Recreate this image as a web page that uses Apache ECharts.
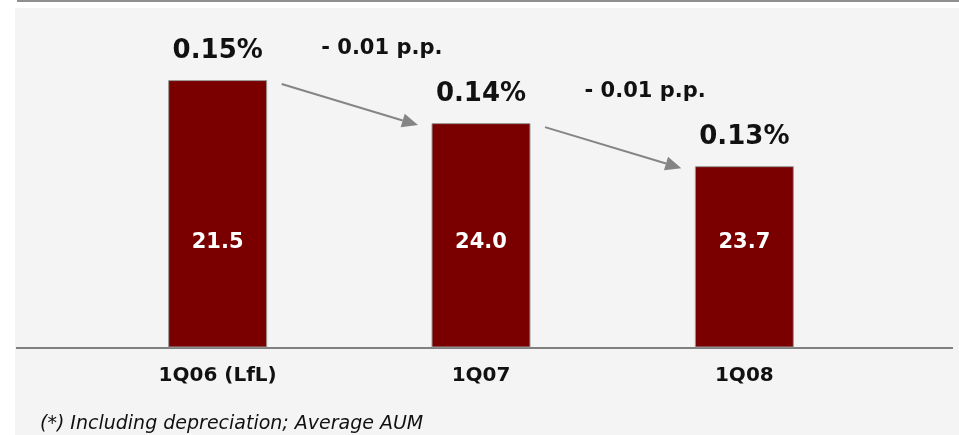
<!DOCTYPE html>
<html>
<head>
<meta charset="utf-8">
<script src="https://cdn.jsdelivr.net/npm/echarts@6/dist/echarts.min.js"></script>
<style>
  html, body { margin: 0; padding: 0; background: #ffffff; }
  #chart { width: 959px; height: 435px; }
</style>
</head>
<body>
<div id="chart"></div>
<script>
// Cost / average AUM by quarter
const categories = ['1Q06 (LfL)', '1Q07', '1Q08'];
const costRatio = [0.15, 0.14, 0.13];      // % of average AUM (bar height, label above)
const costAmount = [21.5, 24.0, 23.7];     // amount printed inside each bar
const footnote = '(*) Including depreciation; Average AUM';

const FONT = "'DejaVu Sans', Verdana, sans-serif";
const INK = '#111111';
const ARROW = '#858585';

// one entry per step between consecutive quarters: [from index, from value, to value]
const steps = costRatio.slice(1).map((v, i) => [i, costRatio[i], v]);

function changeText(a, b) {
  const d = Math.round((b - a) * 100) / 100;
  return (d < 0 ? '- ' : '+ ') + Math.abs(d).toFixed(2) + ' p.p.';
}

const chart = echarts.init(document.getElementById('chart'), null, { renderer: 'canvas' });

const option = {
  animation: false,
  backgroundColor: '#ffffff',
  grid: { left: 86, right: 83, top: 37, bottom: 88 },
  xAxis: {
    type: 'category',
    data: categories,
    axisLine: { show: false },
    axisTick: { show: false },
    axisLabel: {
      margin: 19,
      color: INK,
      fontWeight: 'bold',
      fontSize: 20,
      fontFamily: FONT
    }
  },
  yAxis: { type: 'value', min: 0.088, max: 0.16, show: false },
  graphic: [
    // panel background
    { type: 'rect', z: -100, silent: true,
      shape: { x: 15, y: 8, width: 944, height: 427 },
      style: { fill: '#f4f4f4' } },
    // rule along the top of the page
    { type: 'line', z: -90, silent: true,
      shape: { x1: 17, y1: 1, x2: 959, y2: 1 },
      style: { stroke: '#8f8f8f', lineWidth: 2 } },
    // baseline under the bars
    { type: 'line', z: -90, silent: true,
      shape: { x1: 16, y1: 348, x2: 953, y2: 348 },
      style: { stroke: '#808080', lineWidth: 2 } },
    // footnote
    { type: 'text', silent: true, left: 40, top: 415,
      style: { text: footnote, fill: INK, fontSize: 19, fontStyle: 'italic', fontFamily: FONT } }
  ],
  series: [
    {
      type: 'bar',
      data: costRatio,
      barWidth: 99,
      itemStyle: { color: '#7a0000', borderColor: '#9a9a9a', borderWidth: 1 },
      label: {
        show: true,
        position: 'top',
        distance: 16,
        formatter: p => p.value.toFixed(2) + '%',
        color: INK,
        fontSize: 26,
        fontWeight: 'bold',
        fontFamily: FONT
      },
      z: 2
    },
    {
      // transparent overlay carrying the amounts printed inside the bars
      type: 'bar',
      data: costRatio,
      barWidth: 99,
      barGap: '-100%',
      itemStyle: { color: 'rgba(0,0,0,0)' },
      label: {
        show: true,
        position: 'insideBottom',
        distance: 94,
        formatter: p => costAmount[p.dataIndex].toFixed(1),
        color: '#ffffff',
        fontSize: 21,
        fontWeight: 'bold',
        fontFamily: FONT
      },
      z: 3
    },
    {
      // arrows and change annotations between consecutive quarters
      type: 'custom',
      data: steps,
      z: 4,
      renderItem: function (params, api) {
        const i = api.value(0);
        const from = api.value(1), to = api.value(2);
        const a = api.coord([i, from]);
        const b = api.coord([i + 1, to]);
        const x1 = a[0] + 64, y1 = a[1] + 4;
        const x2 = b[0] - 63, y2 = b[1] + 2;
        const ang = Math.atan2(y2 - y1, x2 - x1);
        const L = 16, W = 7;
        const bx = x2 - L * Math.cos(ang), by = y2 - L * Math.sin(ang);
        const px = -Math.sin(ang) * W, py = Math.cos(ang) * W;
        return {
          type: 'group',
          children: [
            { type: 'line', shape: { x1: x1, y1: y1, x2: bx, y2: by },
              style: { stroke: ARROW, lineWidth: 2 } },
            { type: 'polygon', shape: { points: [[x2, y2], [bx + px, by + py], [bx - px, by - py]] },
              style: { fill: ARROW } },
            { type: 'text', x: (x1 + x2) / 2 + 32, y: (y1 + y2) / 2 - 56,
              style: { text: changeText(from, to), fill: INK, fontSize: 21, fontWeight: 'bold',
                       fontFamily: FONT, align: 'center', verticalAlign: 'middle' } }
          ]
        };
      }
    }
  ]
};

chart.setOption(option);
</script>
</body>
</html>
